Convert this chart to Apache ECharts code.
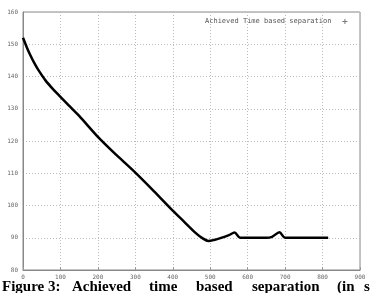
<!DOCTYPE html>
<html>
<head>
<meta charset="utf-8">
<script src="https://cdn.jsdelivr.net/npm/echarts@6/dist/echarts.min.js"></script>
<style>
  html,body{margin:0;padding:0;background:#fff;}
  #chart{width:370px;height:293px;}
</style>
</head>
<body>
<div id="chart"></div>
<script>
// time (x) and achieved separation (y)
var timeSteps = [0, 10, 20, 30, 40, 60, 80, 100, 125, 150, 200, 250, 300, 350, 400, 430, 460, 480, 495, 510, 525, 550, 565, 580, 650, 665, 685, 700, 815];
var separation = [152, 149.1, 146.5, 144.2, 142.2, 138.8, 136.1, 133.7, 130.7, 127.8, 121.3, 115.6, 110.2, 104.4, 98.4, 95, 91.6, 89.8, 89, 89.3, 89.8, 90.8, 91.6, 90, 90, 90.3, 91.7, 90, 90];
var xTicks = [0, 100, 200, 300, 400, 500, 600, 700, 800, 900];
var yTicks = [80, 90, 100, 110, 120, 130, 140, 150, 160];
var seriesName = "Achieved Time based separation";
var captionWords = ["Figure 3:", "Achieved", "time", "based", "separation", "(in", "sec)"];
var captionX = [2, 72, 149, 196, 252, 337, 364];

var chart = echarts.init(document.getElementById("chart"));
var pts = [];
for (var i = 0; i < timeSteps.length; i++) {
  pts.push([timeSteps[i], separation[i]]);
}
var axisFont = {fontFamily: "DejaVu Sans Mono", fontSize: 6, color: "#666"};

var option = {
  animation: false,
  backgroundColor: "#fff",
  grid: {left: 23, right: 10, top: 12, bottom: 23},
  legend: {
    left: 200, top: 13,
    align: "right",
    itemWidth: 5, itemHeight: 5, itemGap: 6,
    textStyle: {fontFamily: "DejaVu Sans Mono", fontSize: 7, color: "#555", padding: [0, 6, 0, 0]},
    data: [{name: seriesName, icon: "path://M4,0H6V4H10V6H6V10H4V6H0V4H4Z", itemStyle: {color: "#777"}}]
  },
  xAxis: {
    type: "value", min: 0, max: 900, interval: 100,
    axisLine: {show: true, lineStyle: {color: "#888", width: 1}},
    axisTick: {show: true, inside: true, length: 3, lineStyle: {color: "#999"}},
    axisLabel: Object.assign({margin: 4, formatter: function (v) { return xTicks.indexOf(v) >= 0 ? String(v) : ""; }}, axisFont),
    splitLine: {show: true, lineStyle: {color: "#bbb", type: [1, 2], width: 1}}
  },
  yAxis: {
    type: "value", min: 80, max: 160, interval: 10,
    axisLine: {show: true, lineStyle: {color: "#888", width: 1}},
    axisTick: {show: false},
    axisLabel: Object.assign({margin: 5, formatter: function (v) { return yTicks.indexOf(v) >= 0 ? String(v) : ""; }}, axisFont),
    splitLine: {show: true, lineStyle: {color: "#bbb", type: [1, 2], width: 1}}
  },
  series: [{
    name: seriesName,
    type: "line",
    data: pts,
    smooth: 0.3,
    symbol: "none",
    lineStyle: {color: "#000", width: 2.5},
    itemStyle: {color: "#000"}
  }],
  graphic: []
};

// plot frame (top and right edges)
option.graphic.push({
  type: "rect", silent: true, z: 0,
  shape: {x: 23, y: 12, width: 337, height: 258},
  style: {fill: null, stroke: "#888", lineWidth: 1}
});
// caption words, justified across the bottom
for (var k = 0; k < captionWords.length; k++) {
  option.graphic.push({
    type: "text", left: captionX[k], top: 280,
    style: {text: captionWords[k], fontFamily: "Liberation Serif", fontWeight: "bold", fontSize: 15, fill: "#000"}
  });
}
chart.setOption(option);
</script>
</body>
</html>
